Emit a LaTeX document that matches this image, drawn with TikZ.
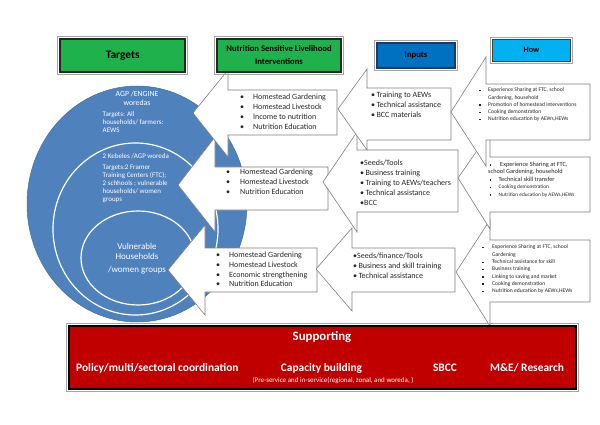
\documentclass[tikz,border=0pt]{standalone}
\usepackage{fontspec}
\setmainfont{Carlito}
\definecolor{cblue}{HTML}{4F81BD}
\definecolor{cedge}{HTML}{41719C}
\definecolor{hgreen}{HTML}{1FB14C}
\definecolor{iblue}{HTML}{0070C0}
\definecolor{inavy}{HTML}{1F3864}
\definecolor{hblue}{HTML}{00B0F0}
\definecolor{sred}{HTML}{C00000}
\definecolor{cline}{HTML}{7F7F7F}
\newcommand{\mycallout}[8]{%
  \filldraw[calloutshape] (#2,#3) -- (#1,#3) -- (#1,#5) -- (#7,#8) -- (#1,#6) -- (#1,#4) -- (#2,#4) -- cycle;}
\newcommand{\nb}[2]{\makebox[#1][l]{\textbullet}#2}
\newcommand{\sqb}[2]{\makebox[#1][l]{\raisebox{0.6pt}{\rule{1.4pt}{1.4pt}}}#2}
\tikzset{
  calloutshape/.style={fill=white, draw=cline, line width=0.6pt, line join=miter},
  lst/.style={anchor=north west, inner sep=0pt, align=left, text=black!85},
  nsl/.style={lst, font=\fontsize{8}{10}\selectfont},
  ctext/.style={inner sep=0pt, text=white, align=left},
  hdr/.style={draw=black!85, line width=2pt, inner sep=0pt, align=center, text=black, font=\bfseries\fontsize{8.6}{13}\selectfont},
  outerframe/.style={draw=gray!70, line width=0.8pt},
  stext/.style={inner sep=0pt, text=white, font=\bfseries\fontsize{11.4}{13}\selectfont}
}
\begin{document}
\begin{tikzpicture}[x=1pt,y=-1pt]
\useasboundingbox (0,0) rectangle (600,425);
\fill[white] (0,0) rectangle (600,425);

% target circles
\filldraw[fill=cblue, draw=cedge, line width=0.5pt] (137,204) ellipse [x radius=110, y radius=118];
\draw[white, line width=1.2pt] (135.5,229) ellipse [x radius=82.5, y radius=86];
\draw[white, line width=1.2pt] (138,258) ellipse [x radius=57, y radius=47];

\node[ctext, align=center, font=\fontsize{7.8}{9}\selectfont] (agp) at (137,98.5) {AGP /ENGINE\\woredas};
\node[ctext, anchor=north west, font=\fontsize{7}{8}\selectfont] (tall) at (102.5,111.4) {Targets: All\\households/ farmers:\\AEWS};
\node[ctext, anchor=north west, font=\fontsize{7}{8}\selectfont] (keb) at (102.5,153.4) {2 Kebeles /AGP woreda};
\node[ctext, anchor=north west, font=\fontsize{7}{8}\selectfont] (tftc) at (102.5,164.4) {Targets:2 Framer\\Training Centers (FTC);\\2 schhools ; vulnerable\\households/ women\\groups};
\node[ctext, align=center, anchor=north, font=\fontsize{9}{10}\selectfont] (vuln) at (137,242.7) {Vulnerable\\Households\\[3.5pt]/women groups};

% row 3
\mycallout{205}{317}{248}{292}{225}{315}{168}{270}
\mycallout{352}{455}{248}{292}{228}{311}{316}{269}
\mycallout{490}{590}{240}{302}{220}{326}{456}{272}
% row 2
\mycallout{215}{328}{167}{210}{137}{232}{178}{185}
\mycallout{357}{458}{150}{212}{132}{232}{323}{182}
\mycallout{490}{590}{157}{212}{132}{229}{458}{178}
% row 1
\mycallout{228}{337}{90}{135}{70}{157}{193}{113}
\mycallout{367}{451}{88}{140}{69}{150}{338}{109}
\mycallout{486}{590}{84}{140}{57}{166}{451}{112}

% NSL lists
\node[nsl] (n1) at (240,94.2) {\nb{13pt}{Homestead Gardening}\\\nb{13pt}{Homestead Livestock}\\\nb{13pt}{Income to nutrition}\\\nb{13pt}{Nutrition Education}};
\node[nsl] (n2) at (226,169) {\nb{14pt}{Homestead Gardening}\\\nb{14pt}{Homestead Livestock}\\\nb{14pt}{Nutrition Education}};
\node[lst, font=\fontsize{8}{9.7}\selectfont] (n3) at (216,252) {\nb{13pt}{Homestead Gardening}\\\nb{13pt}{Homestead Livestock}\\\nb{13pt}{Economic strengthening}\\\nb{13pt}{Nutrition Education}};

% Inputs lists
\node[nsl] (i1) at (371,92) {\textbullet\,Training to AEWs\\\textbullet\,Technical assistance\\\textbullet\,BCC materials};
\node[nsl] (i2) at (360,160) {\textbullet Seeds/Tools\\\textbullet\,Business training\\\textbullet\,Training to AEWs/teachers\\\textbullet\,Technical assistance\\\textbullet BCC};
\node[nsl] (i3) at (353,253) {\textbullet Seeds/finance/Tools\\\textbullet\,Business and skill training\\\textbullet\,Technical assistance};

% How lists
\node[lst, font=\fontsize{5.6}{7.2}\selectfont] (h1) at (479,87.9) {\sqb{9pt}{Experience Sharing at FTC, school}\\\hspace*{9pt}Gardening, household\\\sqb{9pt}{Promotion of homestead interventions}\\\sqb{9pt}{Cooking demonstration}\\\sqb{9pt}{Nutrition education by AEWs,HEWs}};
\node[lst, font=\fontsize{6.3}{7.5}\selectfont] (h2) at (488,161.7) {\hspace*{1.5pt}\sqb{10.5pt}{Experience Sharing at FTC,}\\school Gardening, household\\\hspace*{1.5pt}\sqb{9pt}{Technical skill transfer}\\{\fontsize{5.3}{7.5}\selectfont\hspace*{1.5pt}\sqb{9pt}{Cooking demonstration}}\\{\fontsize{5.3}{7.5}\selectfont\hspace*{1.5pt}\sqb{9pt}{Nutrition education by AEWs,HEWs}}};
\node[lst, font=\fontsize{5.6}{7.3}\selectfont] (h3) at (482,244.9) {\sqb{10pt}{Experience Sharing at FTC, school}\\\hspace*{10pt}Gardening\\\sqb{10pt}{Technical assistance for skill}\\\sqb{10pt}{Business training}\\\sqb{10pt}{Linking to saving and market}\\\sqb{10pt}{Cooking demonstration}\\\sqb{10pt}{Nutrition education by AEWs,HEWs}};

% header boxes
\node[hdr, fill=hgreen, minimum width=125pt, minimum height=33pt, font=\bfseries\fontsize{11.4}{13}\selectfont] (targets) at (122.7,55.7) {Targets};
\node[hdr, fill=hgreen, minimum width=124pt, minimum height=33pt] (nslh) at (279,55.5) {Nutrition Sensitive Livelihood\\Interventions};
\node[hdr, fill=iblue, draw=inavy, minimum width=78pt, minimum height=25.5pt, font=\bfseries\fontsize{8.6}{10}\selectfont] (inputs) at (416,55.3) {Inputs};
\node[hdr, fill=hblue, draw=black!75, line width=1.4pt, minimum width=78pt, minimum height=22pt, font=\bfseries\fontsize{8.2}{10}\selectfont] (how) at (531.5,50.3) {How};
\foreach \n in {targets,nslh,inputs,how}{
  \draw[outerframe] ([xshift=-1.6pt,yshift=1.6pt]\n.north west) rectangle ([xshift=1.6pt,yshift=-1.6pt]\n.south east);
}

% supporting box
\node[draw=black, line width=2pt, fill=sred, minimum width=507pt, minimum height=63pt, inner sep=0pt] (supp) at (322,357) {};
\draw[outerframe] ([xshift=-1.4pt,yshift=1.4pt]supp.north west) rectangle ([xshift=1.4pt,yshift=-1.4pt]supp.south east);
\node[stext, font=\bfseries\fontsize{12.8}{14}\selectfont] (suph) at (322,337.5) {Supporting};
\node[stext, anchor=west] (pol) at (76,368) {Policy/multi/sectoral coordination};
\node[stext] (cap) at (321.5,368) {Capacity building};
\node[stext] (sbcc) at (445,368) {SBCC};
\node[stext, anchor=west] (mne) at (490,368) {M\&E/ Research};
\node[inner sep=0pt, text=white, font=\fontsize{7}{8}\selectfont] (pre) at (333,381) {(Pre-service and in-service(regional, zonal, and woreda, )};
\end{tikzpicture}
\end{document}
